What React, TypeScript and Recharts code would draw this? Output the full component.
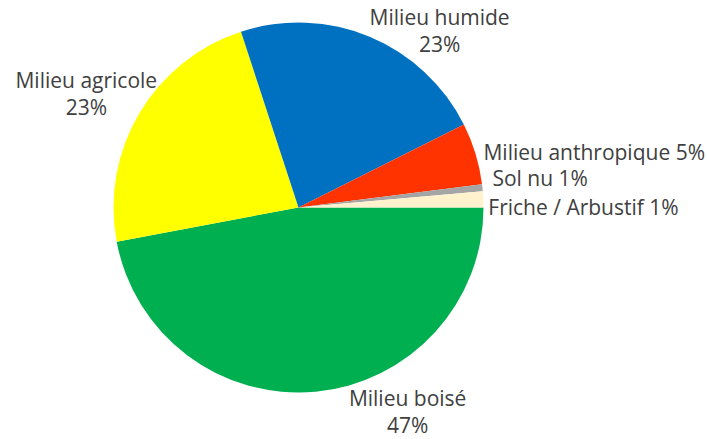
import { PieChart, Pie, Cell } from 'recharts';

const CATEGORIES = [
  'Milieu boisé',
  'Milieu agricole',
  'Milieu humide',
  'Milieu anthropique',
  'Sol nu',
  'Friche / Arbustif',
];
const SHARES = [47.0, 22.9, 22.6, 5.4, 0.6, 1.4];
const COLORS = ['#00B050', '#FFFF00', '#0070C0', '#FF3300', '#A5A5A5', '#FFF2CC'];

// label placement relative to the point on the rim at each slice's mid angle
const LABEL_LAYOUT: Record<string, { dx: number; dy: number; anchor: 'start' | 'middle' | 'end'; split: boolean }> = {
  'Milieu boisé': { dx: 92, dy: 14, anchor: 'middle', split: true },
  'Milieu agricole': { dx: -53, dy: -25, anchor: 'middle', split: true },
  'Milieu humide': { dx: 70, dy: -12, anchor: 'middle', split: true },
  'Milieu anthropique': { dx: 8, dy: 6, anchor: 'start', split: false },
  'Sol nu': { dx: 10, dy: -2, anchor: 'start', split: false },
  'Friche / Arbustif': { dx: 5, dy: 16, anchor: 'start', split: false },
};

const data = CATEGORIES.map((name, i) => ({ name, value: SHARES[i] }));

const RAD = Math.PI / 180;

function renderLabel(props: any) {
  const { cx, cy, midAngle, outerRadius, percent, name } = props;
  const px = cx + outerRadius * Math.cos(-midAngle * RAD);
  const py = cy + outerRadius * Math.sin(-midAngle * RAD);
  const lay = LABEL_LAYOUT[name];
  const pct = `${Math.round(percent * 100)}%`;
  const x = px + lay.dx;
  const y = py + lay.dy;
  return (
    <text
      x={x}
      y={y}
      textAnchor={lay.anchor}
      fill="#404040"
      fontSize={21}
      fontFamily="'Open Sans', sans-serif"
    >
      {lay.split ? (
        <>
          <tspan x={x} y={y}>{name}</tspan>
          <tspan x={x} y={y + 27}>{pct}</tspan>
        </>
      ) : (
        `${name} ${pct}`
      )}
    </text>
  );
}

export default function App() {
  return (
    <div style={{ width: 707, height: 439, background: '#fff' }}>
      <style>{`body{margin:0}`}</style>
      <PieChart width={707} height={439} margin={{ top: 0, right: 0, bottom: 0, left: 0 }}>
        <Pie
          data={data}
          dataKey="value"
          nameKey="name"
          cx={298.5}
          cy={207.5}
          outerRadius={185}
          startAngle={0}
          endAngle={-360}
          stroke="none"
          label={renderLabel}
          labelLine={false}
          isAnimationActive={false}
        >
          {data.map((d, i) => (
            <Cell key={d.name} fill={COLORS[i]} />
          ))}
        </Pie>
      </PieChart>
    </div>
  );
}
